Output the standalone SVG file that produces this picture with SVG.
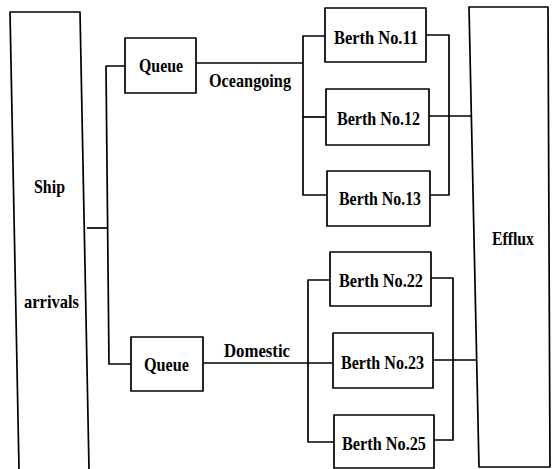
<svg xmlns="http://www.w3.org/2000/svg" width="552" height="469" viewBox="0 0 552 469">
<style>
.b{fill:#fff;stroke:#000;stroke-width:1.7;stroke-linejoin:round}
.c{fill:none;stroke:#000;stroke-width:1.7;stroke-linejoin:round}
text{font-family:"Liberation Serif","DejaVu Serif",serif;font-size:19px;fill:#000;font-weight:bold}
</style>
<rect width="552" height="469" fill="#fff"/>
<g id="connectors">
<path class="c" d="M87,228 L107,228"/>
<path class="c" d="M125,66 L106,66 L109,364 L131,364"/>
<path class="c" d="M196,63 L303,63"/>
<path class="c" d="M325,36 L303,36 L303,195 L327,195"/>
<path class="c" d="M303,117 L326,117"/>
<path class="c" d="M426,35 L449,35 L449,195 L430,195"/>
<path class="c" d="M429,116 L471,116"/>
<path class="c" d="M203,363 L333,363"/>
<path class="c" d="M330,280 L308,280 L308,442 L334,442"/>
<path class="c" d="M431,278 L453,278 L453,440 L434,440"/>
<path class="c" d="M433,360 L477,360"/>
</g>
<g id="ship-arrivals">
<path class="c" d="M19,469 L10,12 L80,12 L89,469"/>
<text x="34" y="193" textLength="31" lengthAdjust="spacingAndGlyphs">Ship</text>
<text x="24" y="308" textLength="55" lengthAdjust="spacingAndGlyphs">arrivals</text>
</g>
<g id="queue-oceangoing">
<rect class="b" x="125" y="38" width="71" height="55"/>
<text x="139" y="72" textLength="44" lengthAdjust="spacingAndGlyphs">Queue</text>
</g>
<g id="label-oceangoing"><text x="209" y="87" textLength="82" lengthAdjust="spacingAndGlyphs">Oceangoing</text></g>
<g id="queue-domestic">
<rect class="b" x="131" y="337" width="72" height="54"/>
<text x="144" y="371" textLength="45" lengthAdjust="spacingAndGlyphs">Queue</text>
</g>
<g id="label-domestic"><text x="224" y="357" textLength="66" lengthAdjust="spacingAndGlyphs">Domestic</text></g>
<g id="berth-11">
<rect class="b" x="325" y="8" width="101" height="54"/>
<text x="334" y="44" textLength="84" lengthAdjust="spacingAndGlyphs">Berth No.11</text>
</g>
<g id="berth-12">
<rect class="b" x="326" y="89" width="103" height="56"/>
<text x="337" y="125" textLength="83" lengthAdjust="spacingAndGlyphs">Berth No.12</text>
</g>
<g id="berth-13">
<rect class="b" x="327" y="171" width="103" height="55"/>
<text x="339" y="205" textLength="82" lengthAdjust="spacingAndGlyphs">Berth No.13</text>
</g>
<g id="berth-22">
<rect class="b" x="330" y="252" width="101" height="54"/>
<text x="339" y="287" textLength="84" lengthAdjust="spacingAndGlyphs">Berth No.22</text>
</g>
<g id="berth-23">
<rect class="b" x="333" y="333" width="100" height="55"/>
<text x="341" y="369" textLength="83" lengthAdjust="spacingAndGlyphs">Berth No.23</text>
</g>
<g id="berth-25">
<rect class="b" x="334" y="415" width="100" height="53"/>
<text x="342" y="450" textLength="84" lengthAdjust="spacingAndGlyphs">Berth No.25</text>
</g>
<g id="efflux">
<path class="b" d="M469,7 L548,7 L550,467 L479,467 Z"/>
<text x="492" y="245" textLength="42" lengthAdjust="spacingAndGlyphs">Efflux</text>
</g>
</svg>
